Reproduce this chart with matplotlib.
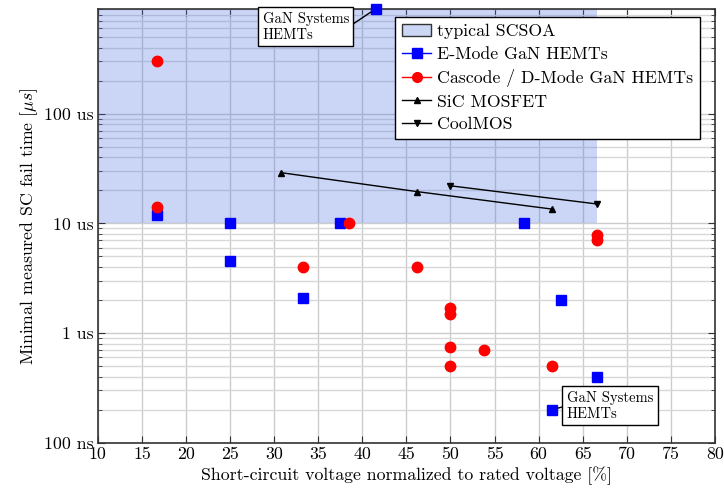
import matplotlib
matplotlib.use('Agg')
import matplotlib.pyplot as plt
from matplotlib.lines import Line2D
from matplotlib.patches import Patch
from matplotlib.ticker import FixedLocator, LogLocator, NullFormatter

plt.rcParams['font.family'] = 'serif'
plt.rcParams['font.serif'] = ['cmr10']
plt.rcParams['mathtext.fontset'] = 'cm'
plt.rcParams['axes.unicode_minus'] = False
plt.rcParams['font.size'] = 12.8

# data: x in % of rated voltage, y in seconds
emode_x = [41.5, 16.67, 25.0, 25.0, 33.33, 37.5, 58.33, 62.5, 66.67, 61.5]
emode_y = [9.0e-4, 12e-6, 10e-6, 4.5e-6, 2.1e-6, 10e-6, 10e-6, 2.0e-6, 0.4e-6, 0.2e-6]

casc_x = [16.67, 16.67, 38.46, 33.33, 46.15, 50.0, 50.0, 50.0, 50.0, 53.85, 61.5, 66.67, 66.67]
casc_y = [300e-6, 14e-6, 10e-6, 4e-6, 4e-6, 1.7e-6, 1.5e-6, 0.75e-6, 0.5e-6, 0.7e-6, 0.5e-6, 7.8e-6, 7.0e-6]

sic_x = [30.77, 46.15, 61.5]
sic_y = [29e-6, 19.5e-6, 13.5e-6]

cool_x = [50.0, 66.67]
cool_y = [22e-6, 15e-6]

scsoa_x = [10, 66.67]
scsoa_y = [10e-6, 9.0e-4]

ytick_vals = [1e-7, 1e-6, 1e-5, 1e-4]
ytick_labels = ['100 ns', '1 us', '10 us', '100 us']

fig, ax = plt.subplots(figsize=(7.24, 4.97), dpi=100)
fig.subplots_adjust(left=0.135, right=0.9876, bottom=0.109, top=0.982)

ax.set_yscale('log')
ax.set_xlim(10, 80)
ax.set_ylim(1e-7, 9.0e-4)

# shaded safe operating area
ax.fill_between(scsoa_x, scsoa_y[0], scsoa_y[1], color='royalblue', alpha=0.27,
                linewidth=0, zorder=1)

ax.plot(emode_x, emode_y, 's', color='blue', ms=7, ls='none', zorder=4, clip_on=False)
ax.plot(casc_x, casc_y, 'o', color='red', ms=7.5, ls='none', zorder=4)
ax.plot(sic_x, sic_y, '^-', color='black', ms=5, lw=1, zorder=3)
ax.plot(cool_x, cool_y, 'v-', color='black', ms=5, lw=1, zorder=3)

ax.xaxis.set_major_locator(FixedLocator(range(10, 81, 5)))
ax.set_yticks(ytick_vals)
ax.set_yticklabels(ytick_labels)
ax.yaxis.set_minor_locator(LogLocator(base=10, subs=range(2, 10)))
ax.yaxis.set_minor_formatter(NullFormatter())

ax.grid(True, which='major', color='#cccccc', lw=1, zorder=0)
ax.grid(True, which='minor', axis='y', color='#d8d8d8', lw=1, zorder=0)
ax.set_axisbelow(True)
ax.tick_params(which='both', direction='in', top=True, right=True, color='#333333')
ax.tick_params(which='major', length=5, pad=3)
ax.tick_params(which='minor', length=3)
for s in ax.spines.values():
    s.set_color('#333333')
    s.set_linewidth(1.2)

ax.set_xlabel('Short-circuit voltage normalized to rated voltage [%]', labelpad=3)
ax.set_ylabel(r'Minimal measured SC fail time [$\mu s$]', labelpad=3)

box = dict(boxstyle='square,pad=0.3', fc='white', ec='black', lw=1)
ax.annotate('GaN Systems\nHEMTs', xy=(41.5, 9.0e-4), xytext=(28.7, 6.2e-4),
            fontsize=10.5, va='center', ha='left', bbox=box,
            arrowprops=dict(arrowstyle='-', color='black', lw=1, shrinkA=0, shrinkB=4,
                            relpos=(1, 0.5)),
            zorder=6)
ax.annotate('GaN Systems\nHEMTs', xy=(61.5, 0.2e-6), xytext=(63.2, 0.218e-6),
            fontsize=10.5, va='center', ha='left', bbox=box,
            arrowprops=dict(arrowstyle='-', color='black', lw=1, shrinkA=0, shrinkB=4,
                            relpos=(0, 0.5)),
            zorder=6)

handles = [
    Patch(facecolor=(0.8, 0.84, 0.96), edgecolor='#333333', lw=1),
    Line2D([], [], color='blue', marker='s', ms=7, lw=1),
    Line2D([], [], color='red', marker='o', ms=7, lw=1),
    Line2D([], [], color='black', marker='^', ms=5, lw=1),
    Line2D([], [], color='black', marker='v', ms=5, lw=1),
]
labels = ['typical SCSOA', 'E-Mode GaN HEMTs', 'Cascode / D-Mode GaN HEMTs',
          'SiC MOSFET', 'CoolMOS']
leg = ax.legend(handles, labels, loc='upper right', bbox_to_anchor=(0.976, 0.982),
                borderaxespad=0, fancybox=False, framealpha=1, edgecolor='black',
                fontsize=12.8, handlelength=1.6, handletextpad=0.35, borderpad=0.4,
                labelspacing=0.4)
leg.get_frame().set_linewidth(1)
leg.set_zorder(7)

fig.savefig('out.png', dpi=100)
